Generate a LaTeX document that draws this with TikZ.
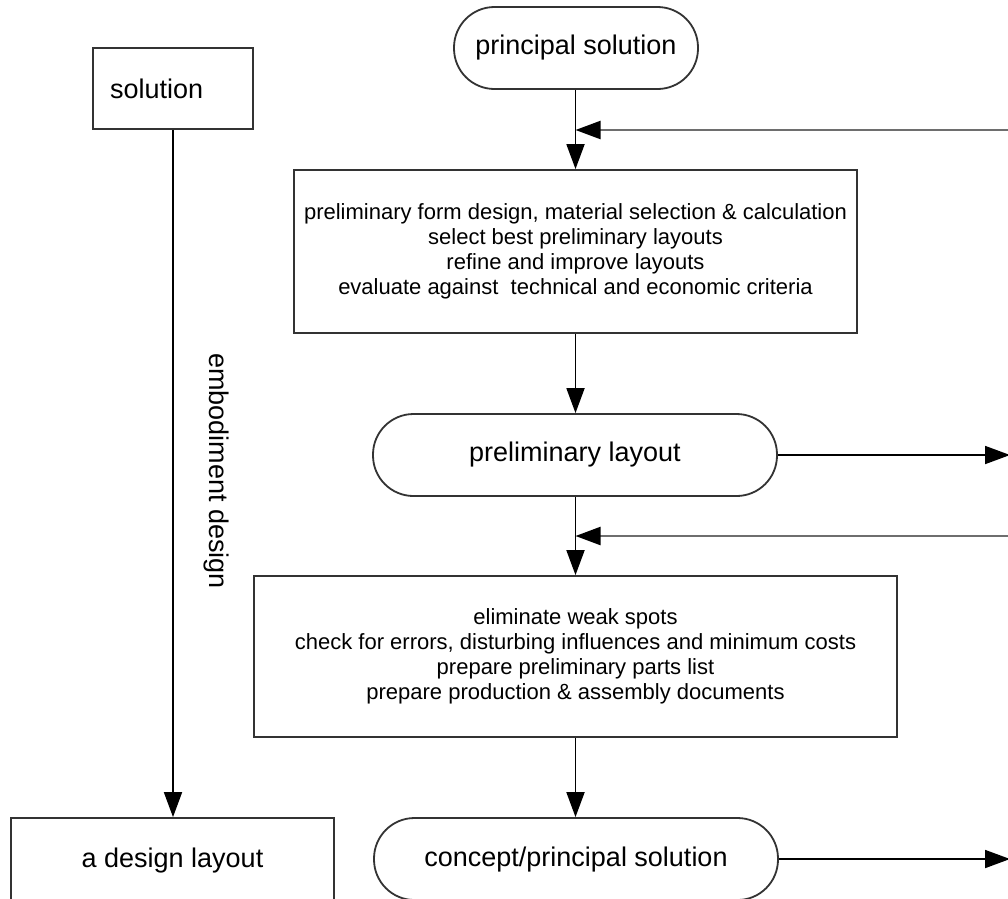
\documentclass[tikz,border=0pt]{standalone}
\usepackage{fontspec}
\setmainfont{Liberation Sans}
\usetikzlibrary{arrows.meta}

\definecolor{edge}{HTML}{333333}
\definecolor{loopline}{HTML}{6E6E6E}

\begin{document}
\begin{tikzpicture}[x=1pt,y=-1pt,
  big/.style={font=\fontsize{27pt}{31pt}\selectfont},
  small/.style={font=\fontsize{22pt}{25pt}\selectfont},
  stepbox/.style={draw=edge, line width=1.8pt, rectangle, align=center, inner sep=0pt},
  term/.style={draw=edge, line width=1.8pt, rectangle, rounded corners=40.5pt,
               minimum height=82pt, inner sep=0pt, big},
  flow/.style={line width=1.8pt, -{Triangle[length=25pt,width=18pt]}},
  back/.style={draw=loopline, line width=2.2pt, -{Triangle[length=25pt,width=18pt,color=black]}}]

  % page frame
  \useasboundingbox (0,0) rectangle (1008,898);
  \fill[white] (0,0) rectangle (1008,898);
  \clip (0,0) rectangle (1008,898);

  % left column: overall step
  \node[stepbox, big, minimum width=160pt, minimum height=81pt,
        text width=126pt, align=left, inner xsep=17pt] (sol) at (173,88.5) {solution};
  \node[stepbox, big, minimum width=323pt, minimum height=84pt] (des) at (172.5,860) {a design layout};
  \node[big, rotate=-90] (emb) at (216,471) {embodiment design};
  \draw[flow] (sol.south) -- (sol.south |- des.north);

  % right column: detailed steps
  \node[term, minimum width=244pt] (t1) at (576,48) {principal solution};
  \node[stepbox, small, minimum width=563pt, minimum height=163pt] (b1) at (575.5,251.5)
    {preliminary form design, material selection \& calculation\\
     select best preliminary layouts\\
     refine and improve layouts\\
     evaluate against\ \ technical and economic criteria};
  \node[term, minimum width=404pt] (t2) at (575,455) {preliminary layout};
  \node[stepbox, small, minimum width=643pt, minimum height=161pt] (b2) at (575.5,656.5)
    {eliminate weak spots\\
     check for errors, disturbing influences and minimum costs\\
     prepare preliminary parts list\\
     prepare production \& assembly documents};
  \node[term, minimum width=404pt] (t3) at (576,859) {concept/principal solution};

  % main flow
  \draw[flow] (t1.south -| b1.north) -- (b1.north);
  \draw[flow] (b1.south) -- (b1.south |- t2.north);
  \draw[flow] (t2.south -| b2.north) -- (b2.north);
  \draw[flow] (b2.south) -- (b2.south |- t3.north);

  % outputs leaving to the right
  \coordinate (o1) at (1010,455);
  \coordinate (o2) at (1010,859);
  \draw[flow] (t2.east) -- (o1);
  \draw[flow] (t3.east) -- (o2);

  % returning loops from the right
  \coordinate (r1) at (1010,130);
  \coordinate (r2) at (1010,536);
  \draw[back] (r1) -- (r1 -| b1.north);
  \draw[back] (r2) -- (r2 -| b2.north);
\end{tikzpicture}
\end{document}
